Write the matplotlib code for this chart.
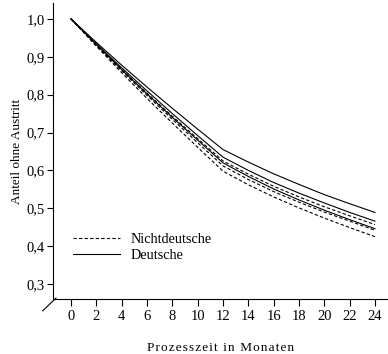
import matplotlib
matplotlib.use("Agg")
import matplotlib.pyplot as plt

plt.rcParams['font.family'] = ['Liberation Serif', 'DejaVu Serif']

# Prozesszeit in Monaten
monate = [0, 2, 4, 6, 8, 10, 12, 14, 16, 18, 20, 22, 24]

# Deutsche: Schaetzung mit oberer und unterer Grenze
deutsche_oben = [1.000, 0.938, 0.878, 0.820, 0.764, 0.709, 0.655, 0.622, 0.591, 0.563, 0.536, 0.512, 0.489]
deutsche = [1.000, 0.934, 0.871, 0.810, 0.750, 0.692, 0.635, 0.600, 0.568, 0.540, 0.514, 0.489, 0.466]
deutsche_unten = [1.000, 0.932, 0.866, 0.802, 0.740, 0.680, 0.620, 0.584, 0.551, 0.522, 0.495, 0.470, 0.446]

# Nichtdeutsche: Schaetzung mit oberer und unterer Grenze
nicht_oben = [1.000, 0.933, 0.867, 0.804, 0.743, 0.684, 0.625, 0.590, 0.558, 0.530, 0.504, 0.480, 0.457]
nicht = [1.000, 0.930, 0.863, 0.798, 0.735, 0.673, 0.612, 0.576, 0.544, 0.516, 0.490, 0.466, 0.442]
nicht_unten = [1.000, 0.928, 0.858, 0.790, 0.725, 0.661, 0.598, 0.562, 0.530, 0.501, 0.474, 0.449, 0.425]

y_ticks = [0.3, 0.4, 0.5, 0.6, 0.7, 0.8, 0.9, 1.0]
y_labels = ["0,3", "0,4", "0,5", "0,6", "0,7", "0,8", "0,9", "1,0"]

fig = plt.figure(figsize=(3.88, 3.54), dpi=100)
ax = fig.add_axes([53 / 388, 55 / 354, 334 / 388, 296 / 354])

dash = (0, (3, 2))
lw = 0.8
for ys in [nicht_oben, nicht, nicht_unten]:
    ax.plot(monate, ys, color='black', linestyle=dash, linewidth=lw)
for ys in [deutsche_oben, deutsche, deutsche_unten]:
    ax.plot(monate, ys, color='black', linestyle='-', linewidth=lw)

ax.set_xlim(-1.42, 24.95)
ax.set_ylim(0.2604, 1.042)
ax.set_xticks(monate)
ax.set_yticks(y_ticks)
ax.set_yticklabels(y_labels)

ax.spines['top'].set_visible(False)
ax.spines['right'].set_visible(False)
for s in ['left', 'bottom']:
    ax.spines[s].set_linewidth(0.8)
ax.tick_params(axis='y', direction='out', length=4.5, width=0.8, labelsize=10.5, pad=1.5)
ax.tick_params(axis='x', direction='out', length=5, width=0.8, labelsize=10.5, pad=3)

# Achsenbruch unten links
ax.plot([-0.031, 0.009], [-0.040, 0.003], transform=ax.transAxes, color='black',
        linewidth=0.8, clip_on=False)

fig.text(17 / 388, 1 - 151 / 354, "Anteil ohne Austritt", rotation=90,
         ha='center', va='center', fontsize=9.5)
xlabel = "\u200a".join("Prozesszeit in Monaten")
fig.text(221 / 388, 1 - 348 / 354, xlabel, ha='center', va='center', fontsize=9.5)

h1, = ax.plot([], [], color='black', linestyle=dash, linewidth=lw)
h2, = ax.plot([], [], color='black', linestyle='-', linewidth=lw)
ax.legend([h1, h2], ["Nichtdeutsche", "Deutsche"], loc='upper left',
          bbox_to_anchor=(0.06, 0.222), frameon=False, fontsize=10.3,
          handlelength=3.3, handletextpad=0.75, labelspacing=0.22,
          borderpad=0, borderaxespad=0)

fig.savefig("out.png", dpi=100)
